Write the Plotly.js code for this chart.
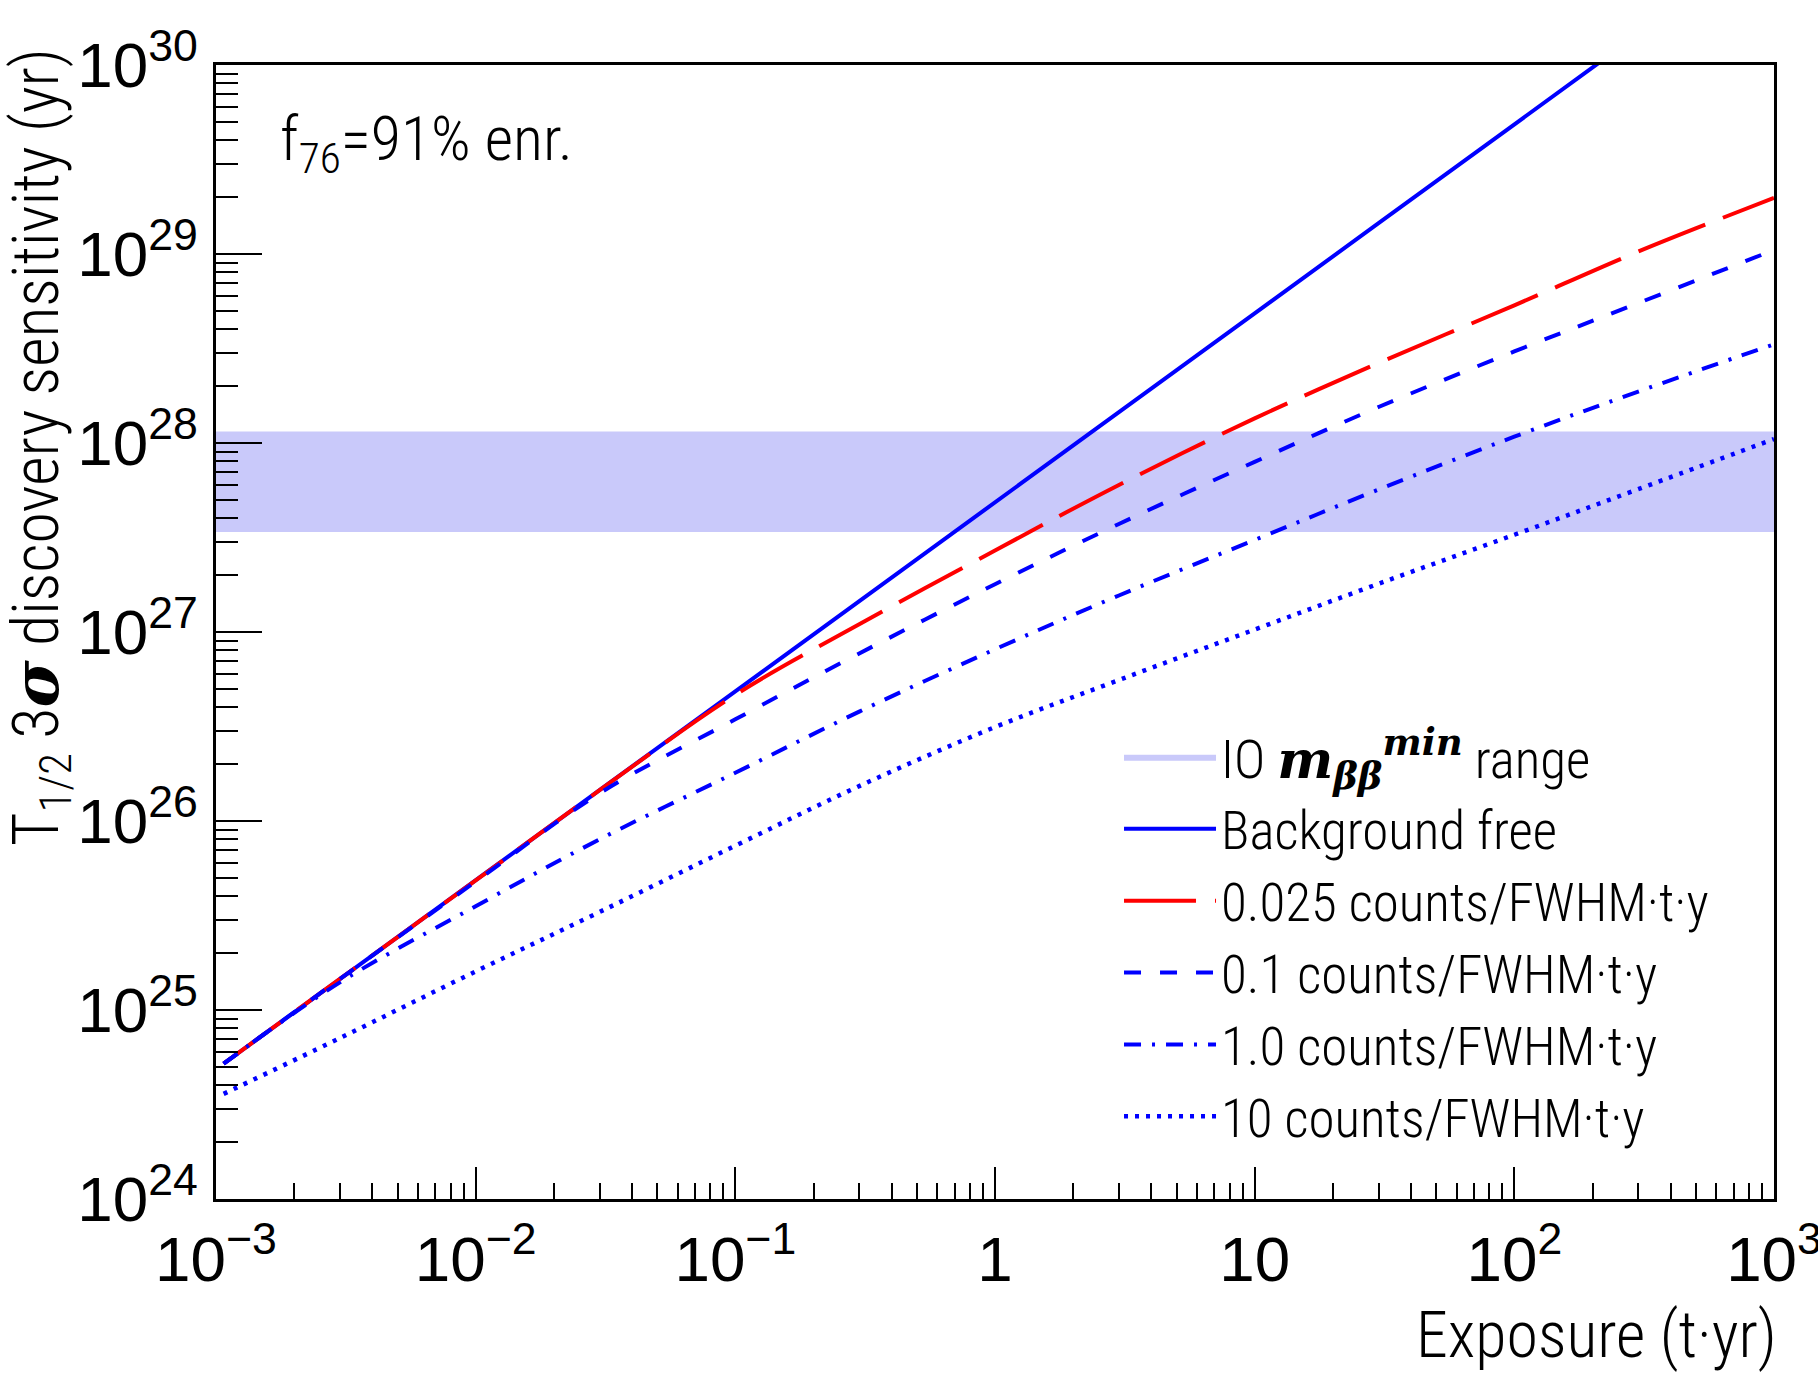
<!DOCTYPE html>
<html>
<head>
<meta charset="utf-8">
<script src="https://cdn.plot.ly/plotly-3.0.1.min.js"></script>
<style>
html,body{margin:0;padding:0;background:#ffffff;}
#chart{width:1818px;height:1376px;}
</style>
</head>
<body>
<div id="chart"></div>
<script>
// ---- data ----
const exposure = [0.00107, 0.003, 0.01, 0.03, 0.1, 0.3, 1, 3, 10, 30, 100, 300, 1000];
const bgFree   = [5.2e24, 1.46e25, 4.85e25, 1.455e26, 4.85e26, 1.455e27, 4.85e27, 1.455e28, 4.85e28, 1.455e29, 4.85e29, 1.455e30, 4.85e30];
const bkg0025  = [5.2e24, 1.46e25, 4.85e25, 1.455e26, 4.65e26, 1.1e27, 2.7e27, 6.0e27, 1.35e28, 2.65e28, 5.35e28, 1.03e29, 1.98e29];
const bkg01    = [5.2e24, 1.46e25, 4.78e25, 1.4e26, 3.45e26, 7.7e26, 1.79e27, 3.73e27, 7.95e27, 1.55e28, 3.05e28, 5.5e28, 1.05e29];
const bkg1     = [5.2e24, 1.4e25, 3.54e25, 8.0e25, 1.8e26, 3.79e26, 8.1e26, 1.56e27, 3.07e27, 5.67e27, 1.08e28, 1.87e28, 3.33e28];
const bkg10    = [3.6e24, 7.1e24, 1.6e25, 3.3e25, 7.4e25, 1.53e26, 3.14e26, 5.57e26, 1.03e27, 1.8e27, 3.27e27, 5.7e27, 1.05e28];
const bandX    = [1e-3, 1e3];
const bandY    = [3.38e27, 1.15e28];   // IO m_bb^min range (years)
const xRangeLog = [-3, 3];
const yRangeLog = [24, 30];

const SERIF = "font-family:'DejaVu Serif','Liberation Serif',serif";
const seriesNames = [
  "IO <span style=\"" + SERIF + "\"><b><i>m</i></b></span><sub><span style=\"" + SERIF + "\"><b><i>ββ</i></b></span></sub><sup><span style=\"" + SERIF + "\"><b><i>min</i></b></span></sup> range",
  "Background free",
  "0.025 counts/FWHM·t·y",
  "0.1 counts/FWHM·t·y",
  "1.0 counts/FWHM·t·y",
  "10 counts/FWHM·t·y"
];
const noteText = "f<sub>76</sub>=91% enr.";
const xTitleText = "Exposure (t·yr)";
const yTitleText = "T<sub>1/2</sub> 3<span style=\"" + SERIF + "\"><b><i>σ</i></b></span> discovery sensitivity (yr)";

// ---- font availability ----
function hasFont(name) {
  const c = document.createElement('canvas').getContext('2d');
  const s = 'abcdefghijklmnopqrstuvwxyz0123456789ABCDEFGHIJ';
  c.font = '40px monospace';
  const w0 = c.measureText(s).width;
  c.font = "40px '" + name + "', monospace";
  return Math.abs(c.measureText(s).width - w0) > 0.5;
}
const narrowOK = hasFont('Liberation Sans Narrow');
const TICKFONT = narrowOK ? "'Liberation Sans Narrow', 'Liberation Sans', sans-serif" : "'Liberation Sans', Arial, sans-serif";
const TICKSIZE = narrowOK ? 61 : 51;
const TEXTFONT = "Roboto Condensed, 'Liberation Sans Narrow', Roboto, sans-serif";

// ---- styling ----
const BLUE = 'rgb(0,0,255)';
const RED = 'rgb(255,0,0)';
const BAND = 'rgb(201,201,250)';

const traces = [
  {
    x: [bandX[0], bandX[1], bandX[1], bandX[0]],
    y: [bandY[0], bandY[0], bandY[1], bandY[1]],
    type: 'scatter', mode: 'lines', fill: 'toself', fillcolor: BAND,
    line: {color: BAND, width: 0}, name: seriesNames[0], hoverinfo: 'skip'
  },
  {x: exposure, y: bgFree, type: 'scatter', mode: 'lines', name: seriesNames[1],
   line: {color: BLUE, width: 4}},
  {x: exposure, y: bkg0025, type: 'scatter', mode: 'lines', name: seriesNames[2],
   line: {color: RED, width: 4, dash: '72px,19px', shape: 'spline', smoothing: 1}},
  {x: exposure, y: bkg01, type: 'scatter', mode: 'lines', name: seriesNames[3],
   line: {color: BLUE, width: 4, dash: '17px,19px', shape: 'spline', smoothing: 1}},
  {x: exposure, y: bkg1, type: 'scatter', mode: 'lines', name: seriesNames[4],
   line: {color: BLUE, width: 4, dash: '17px,11px,3px,11px', shape: 'spline', smoothing: 1}},
  {x: exposure, y: bkg10, type: 'scatter', mode: 'lines', name: seriesNames[5],
   line: {color: BLUE, width: 4.5, dash: '4px,7px', shape: 'spline', smoothing: 1}}
];

const axisCommon = {
  type: 'log', dtick: 1, showgrid: false, zeroline: false,
  showline: true, linecolor: '#000', linewidth: 3, mirror: true,
  ticks: 'inside', tickcolor: '#000', tickwidth: 2,
  exponentformat: 'power', showexponent: 'all',
  ticklabeloverflow: 'allow',
  tickfont: {family: TICKFONT, size: TICKSIZE, color: '#000'}
};

const layout = {
  width: 1818, height: 1376,
  margin: {l: 216, r: 44, t: 65, b: 177, pad: 0},
  paper_bgcolor: '#fff', plot_bgcolor: '#fff',
  showlegend: true,
  xaxis: Object.assign({}, axisCommon, {
    range: xRangeLog, ticklen: 32, ticklabelstandoff: 5,
    minor: {ticks: 'inside', ticklen: 16, tickwidth: 2, tickcolor: '#000', dtick: 'D1', showgrid: false}
  }),
  yaxis: Object.assign({}, axisCommon, {
    range: yRangeLog, ticklen: 46, ticklabelstandoff: 5,
    minor: {ticks: 'inside', ticklen: 22, tickwidth: 2, tickcolor: '#000', dtick: 'D1', showgrid: false}
  }),
  legend: {
    x: 0.5796, xanchor: 'left', y: 0.426, yanchor: 'top',
    bgcolor: 'rgba(0,0,0,0)', borderwidth: 0, itemwidth: 92,
    traceorder: 'normal',
    font: {family: TEXTFONT, size: 53, color: '#000', weight: 300}
  },
  annotations: [
    {text: noteText, xref: 'paper', yref: 'paper', x: 0.04, y: 0.931,
     xanchor: 'left', yanchor: 'middle', showarrow: false,
     font: {family: TEXTFONT, size: 62, color: '#000', weight: 300}},
    {text: xTitleText, xref: 'paper', yref: 'paper', x: 1.003, y: -0.1208,
     xanchor: 'right', yanchor: 'middle', showarrow: false,
     font: {family: TEXTFONT, size: 64, color: '#000', weight: 300}},
    {text: yTitleText, xref: 'paper', yref: 'paper', x: -0.113, y: 1.0168,
     xanchor: 'center', yanchor: 'top', textangle: -90, showarrow: false,
     font: {family: TEXTFONT, size: 64, color: '#000', weight: 300}}
  ]
};

Plotly.newPlot('chart', traces, layout, {staticPlot: true, displayModeBar: false});
</script>
</body>
</html>
